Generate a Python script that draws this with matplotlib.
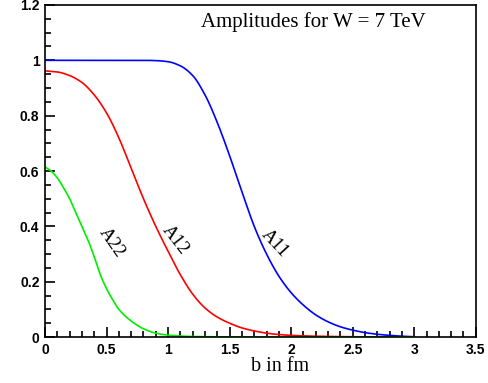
import numpy as np
import matplotlib.pyplot as plt
from matplotlib.ticker import MultipleLocator

# amplitudes vs impact parameter b (fm)
b_a11 = [0.0, 0.8, 0.9, 1.0, 1.1, 1.2, 1.3, 1.4, 1.5, 1.6, 1.7, 1.8, 1.9, 2.0,
         2.1, 2.2, 2.3, 2.4, 2.5, 2.6, 2.7, 2.8, 2.9, 3.0]
a11 = [1.0, 1.0, 0.999, 0.995, 0.98, 0.945, 0.875, 0.775, 0.655, 0.525, 0.40,
       0.30, 0.22, 0.16, 0.115, 0.08, 0.055, 0.037, 0.025, 0.016, 0.01, 0.006,
       0.003, 0.001]

b_a12 = [0.0, 0.1, 0.2, 0.3, 0.4, 0.5, 0.6, 0.7, 0.8, 0.9, 1.0, 1.1, 1.2, 1.3,
         1.4, 1.5, 1.6, 1.7, 1.8, 1.9, 2.0, 2.2, 2.5, 3.0]
a12 = [0.962, 0.958, 0.945, 0.92, 0.875, 0.81, 0.72, 0.61, 0.50, 0.40, 0.31,
       0.225, 0.155, 0.105, 0.072, 0.05, 0.033, 0.022, 0.014, 0.009, 0.006,
       0.003, 0.001, 0.0]

b_a22 = [0.0, 0.05, 0.1, 0.15, 0.2, 0.25, 0.3, 0.35, 0.4, 0.45, 0.5, 0.55, 0.6,
         0.7, 0.8, 0.9, 1.0, 1.2, 1.5, 2.0, 3.0]
a22 = [0.615, 0.60, 0.575, 0.54, 0.50, 0.45, 0.40, 0.35, 0.29, 0.225, 0.175,
       0.135, 0.10, 0.058, 0.03, 0.014, 0.007, 0.002, 0.0005, 0.0, 0.0]

xticks = [0, 0.5, 1, 1.5, 2, 2.5, 3, 3.5]
xtick_labels = ["0", "0.5", "1", "1.5", "2", "2.5", "3", "3.5"]
yticks = [0, 0.2, 0.4, 0.6, 0.8, 1.0, 1.2]
ytick_labels = ["0", "0.2", "0.4", "0.6", "0.8", "1", "1.2"]


def smooth(x, y, n=600):
    # monotone cubic (Fritsch-Carlson) through the read points
    x = np.asarray(x, float)
    y = np.asarray(y, float)
    h = np.diff(x)
    d = np.diff(y) / h
    m = np.zeros_like(y)
    m[0], m[-1] = d[0], d[-1]
    for i in range(1, len(x) - 1):
        if d[i - 1] * d[i] > 0:
            w1 = 2 * h[i] + h[i - 1]
            w2 = h[i] + 2 * h[i - 1]
            m[i] = (w1 + w2) / (w1 / d[i - 1] + w2 / d[i])
    xs = np.linspace(x[0], x[-1], n)
    k = np.clip(np.searchsorted(x, xs) - 1, 0, len(h) - 1)
    t = (xs - x[k]) / h[k]
    h00 = 2 * t**3 - 3 * t**2 + 1
    h10 = t**3 - 2 * t**2 + t
    h01 = -2 * t**3 + 3 * t**2
    h11 = t**3 - t**2
    ys = h00 * y[k] + h10 * h[k] * m[k] + h01 * y[k + 1] + h11 * h[k] * m[k + 1]
    return xs, ys


fig = plt.figure(figsize=(4.89, 3.83), dpi=100)
ax = fig.add_axes([0.092, 0.120, 0.881, 0.867])

ax.plot(*smooth(b_a11, a11), color="#0000ff", lw=1.2)
ax.plot(*smooth(b_a12, a12), color="#ff0000", lw=1.2)
ax.plot(*smooth(b_a22, a22), color="#00ee00", lw=1.2)

ax.set_xlim(0, 3.5)
ax.set_ylim(0, 1.2)
ax.set_xticks(xticks)
ax.set_xticklabels(xtick_labels)
ax.set_yticks(yticks)
ax.set_yticklabels(ytick_labels)
ax.xaxis.set_minor_locator(MultipleLocator(0.1))
ax.yaxis.set_minor_locator(MultipleLocator(0.05))
ax.tick_params(which="both", direction="in", top=False, right=False, width=1.2)
ax.tick_params(which="major", length=7, labelsize=10, pad=4)
ax.tick_params(which="minor", length=4)
for lab in ax.get_xticklabels() + ax.get_yticklabels():
    lab.set_fontfamily("Liberation Sans")
    lab.set_fontweight("bold")
for sp in ax.spines.values():
    sp.set_linewidth(1.2)

serif = "Liberation Serif"
ax.text(0.624, 0.948, "Amplitudes for W = 7 TeV", transform=ax.transAxes,
        ha="center", va="center", fontsize=15, family=serif)
ax.text(0.545, -0.09, "b in fm", transform=ax.transAxes,
        ha="center", va="center", fontsize=14.5, family=serif)
ax.text(0.54, 0.34, "A22", rotation=-55, ha="center", va="center",
        fontsize=13.5, family=serif)
ax.text(1.06, 0.35, "A12", rotation=-52, ha="center", va="center",
        fontsize=13.5, family=serif)
ax.text(1.87, 0.34, "A11", rotation=-47, ha="center", va="center",
        fontsize=13.5, family=serif)

fig.savefig("out.png", dpi=100)
